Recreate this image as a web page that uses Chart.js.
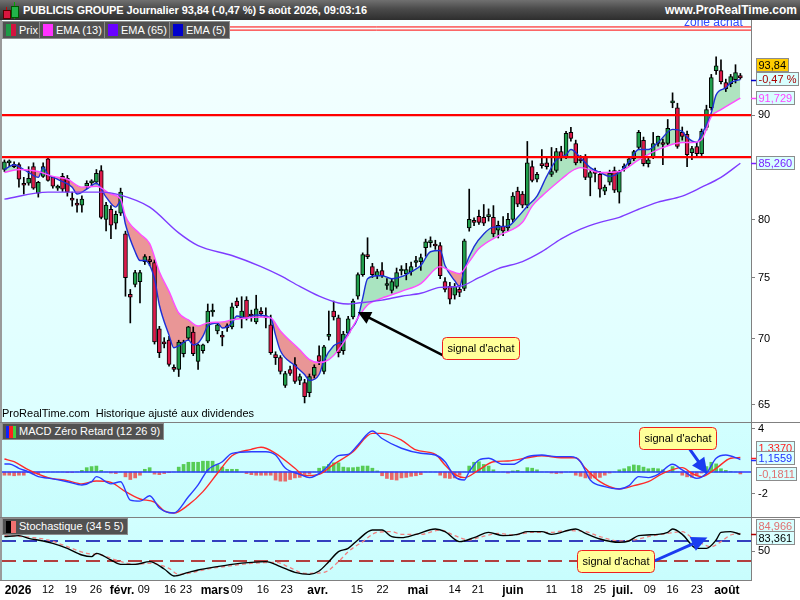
<!DOCTYPE html>
<html lang="fr">
<head>
<meta charset="utf-8">
<title>PUBLICIS GROUPE Journalier</title>
<script src="https://cdn.jsdelivr.net/npm/chart.js@4.4.1/dist/chart.umd.min.js"></script>
<style>
  html,body{margin:0;padding:0;background:#fff;}
  body{width:800px;height:600px;position:relative;overflow:hidden;font-family:"Liberation Sans",Arial,Helvetica,sans-serif;}
  canvas{position:absolute;left:0;}
  #cMain{top:20px;} #cMacd{top:422px;} #cSto{top:517px;}
  #title{position:absolute;left:0;top:0;width:800px;height:20px;background:linear-gradient(#707070,#4a4a4a 45%,#2e2e2e);z-index:6;}
  #title .t{position:absolute;left:23px;top:0;line-height:20px;font-size:11px;font-weight:bold;color:#fff;white-space:nowrap;letter-spacing:-0.1px;}
  #title .w{position:absolute;right:3px;top:0;line-height:20px;font-size:12px;font-weight:bold;color:#fff;white-space:nowrap;}
  .ic{position:absolute;}
  .leg{position:absolute;height:16px;background:#515151;border:1px solid #8c8c8c;color:#fff;font-size:11px;line-height:16px;white-space:nowrap;z-index:5;padding:0 3px 0 16px;}
  .leg i{position:absolute;top:2px;height:12px;}
  .hl{position:absolute;height:1px;background:#808080;z-index:4;}
  #lb{position:absolute;left:0;top:20px;width:2px;height:560px;background:#9a9a9a;z-index:4;}
  #zone{position:absolute;left:684px;top:15px;font-size:12px;line-height:14px;color:#2f4bff;z-index:3;white-space:nowrap;}
  #note{position:absolute;left:2px;top:407px;font-size:11px;line-height:13px;color:#000;z-index:3;white-space:nowrap;}
</style>
</head>
<body>
<div id="title">
  <div class="ic" style="left:6px;top:7px;width:1px;height:12px;background:#c00;"></div>
  <div class="ic" style="left:3px;top:10px;width:6px;height:7px;background:#d8163f;border:0.5px solid #500;"></div>
  <div class="ic" style="left:14px;top:2px;width:1px;height:17px;background:#0a0;"></div>
  <div class="ic" style="left:11px;top:6px;width:6px;height:10px;background:#22b34a;border:0.5px solid #050;"></div>
  <span class="t">PUBLICIS GROUPE Journalier 93,84 (-0,47 %) 5 août 2026, 09:03:16</span>
  <span class="w">www.ProRealTime.com</span>
</div>
<div id="zone">zone achat</div>
<canvas id="cMain" width="800" height="402"></canvas>
<canvas id="cMacd" width="800" height="95"></canvas>
<canvas id="cSto" width="800" height="83"></canvas>

<div class="leg" style="left:2px;top:21px;"><i style="left:3px;width:5px;background:#1e9a45;"></i><i style="left:8px;width:5px;background:#d3123f;"></i>Prix</div>
<div class="leg" style="left:39px;top:21px;"><i style="left:3px;width:10px;background:#ff33ff;"></i>EMA (13)</div>
<div class="leg" style="left:104px;top:21px;"><i style="left:3px;width:10px;background:#6a00ff;"></i>EMA (65)</div>
<div class="leg" style="left:169px;top:21px;"><i style="left:3px;width:10px;background:#0000cc;"></i>EMA (5)</div>
<div id="note">ProRealTime.com&nbsp; Historique ajusté aux dividendes</div>
<div class="leg" style="left:2px;top:423px;height:15px;line-height:15px;"><i style="left:3px;width:3px;background:#1020ff;"></i><i style="left:6px;width:4px;background:#ff2020;"></i><i style="left:10px;width:3px;background:#40d040;"></i>MACD Zéro Retard (12 26 9)</div>
<div class="leg" style="left:2px;top:518px;height:15px;line-height:15px;"><i style="left:3px;width:5px;background:#000;"></i><i style="left:8px;width:5px;background:#f07070;"></i>Stochastique (34 5 5)</div>
<div id="lb"></div>
<div class="hl" style="left:0;top:422px;width:800px;"></div>
<div class="hl" style="left:0;top:517px;width:800px;"></div>
<div class="hl" style="left:0;top:580px;width:752px;"></div>

<script>
const FONT = '"Liberation Sans", Arial, Helvetica, sans-serif';
Chart.defaults.font.family = FONT;

// ---------------- DATA (daily candles, index 0 = 2 janv. 2026) ----------------
const opens = [
84.66,85.30,85.15,85.12,83.20,83.37,84.93,82.45,84.01,85.69,
83.92,82.91,84.01,83.83,81.85,81.38,81.34,83.09,83.40,83.46,
84.57,80.05,80.97,79.71,80.61,78.76,73.60,74.41,74.65,76.35,
76.40,76.27,70.79,69.76,69.91,67.80,67.64,68.85,70.06,70.54,
68.25,69.08,69.83,72.15,70.63,70.30,70.90,70.95,73.04,71.67,
73.12,71.85,71.35,72.23,71.70,71.11,68.78,68.55,66.44,67.64,
68.02,66.81,66.66,65.91,67.19,68.70,67.49,70.20,72.23,71.67,
69.08,70.46,71.75,73.44,75.24,76.95,75.92,75.15,75.58,74.33,
73.92,74.25,75.55,75.32,75.49,76.27,76.35,77.56,77.99,77.78,
77.73,74.65,74.25,73.52,74.00,74.09,79.28,79.85,80.33,80.24,
80.30,80.24,79.10,79.45,79.28,80.05,82.63,82.36,81.34,84.93,
83.74,85.21,85.30,84.20,84.57,86.38,85.89,88.26,87.17,85.69,
85.89,83.92,84.47,84.20,82.63,83.46,84.57,82.54,84.80,85.21,
85.69,86.78,87.47,85.21,85.89,87.17,87.27,87.17,91.23,90.74,
88.26,88.07,86.28,86.88,86.18,88.76,90.74,94.60,94.60,93.34,
93.23,93.65,94.07];
const highs = [
85.58,85.58,85.40,85.30,83.92,84.93,85.30,83.55,85.30,85.89,
84.00,83.20,84.30,84.10,82.54,81.90,82.20,83.60,83.70,84.66,
85.03,81.60,81.30,80.80,82.91,79.00,74.00,75.60,75.60,76.95,
76.80,76.50,71.00,70.10,70.20,68.00,69.90,69.90,71.00,70.95,
69.60,69.60,72.80,72.80,71.20,70.60,71.20,72.88,73.30,73.40,
73.40,72.30,73.52,72.50,72.48,71.90,69.00,68.70,67.50,67.90,
68.55,67.30,66.90,67.30,68.00,69.46,69.50,72.23,73.04,71.90,
70.60,71.80,73.20,75.40,77.10,78.42,76.20,75.70,76.27,74.90,
74.90,75.80,76.00,76.20,76.30,76.80,77.00,78.30,78.50,78.20,
78.00,75.00,74.60,74.50,74.30,78.30,82.82,80.20,80.90,81.40,
81.00,81.30,79.90,80.30,80.60,82.50,83.00,82.60,87.37,85.50,
84.40,86.58,85.90,86.78,86.70,86.90,88.36,88.76,87.50,86.00,
86.10,84.60,84.80,84.50,83.20,84.60,84.90,84.60,85.20,85.90,
86.50,88.46,87.80,85.80,88.26,87.90,87.60,89.55,92.27,91.20,
88.80,88.40,86.90,87.20,88.60,91.00,94.20,96.07,95.75,93.70,
94.20,95.23,94.30];
const lows = [
84.47,84.93,84.84,83.00,82.36,83.18,82.80,82.08,83.92,83.55,
82.91,82.70,82.60,82.17,81.25,80.70,80.70,82.90,83.10,83.30,
80.10,79.02,78.33,79.19,80.40,73.44,71.27,74.20,72.88,76.10,
76.00,69.60,68.55,69.30,67.90,67.50,67.11,68.60,69.90,68.70,
67.64,68.90,69.70,71.80,70.40,69.46,70.60,70.80,72.50,70.87,
71.50,71.40,71.20,71.80,70.87,68.80,68.02,67.30,66.29,67.20,
66.60,66.50,65.15,65.60,67.00,68.00,67.30,69.91,71.50,68.60,
68.80,70.30,71.60,73.20,75.10,76.60,75.00,74.90,75.00,74.00,
73.70,74.10,75.20,74.80,75.20,75.90,75.60,76.80,77.60,77.40,
74.90,73.80,72.80,73.20,73.40,73.90,79.00,79.50,79.60,79.50,
79.90,78.50,78.40,78.60,79.00,79.80,81.20,81.10,81.10,83.50,
83.50,84.80,84.70,84.00,84.40,85.50,85.70,87.40,85.10,85.30,
83.70,82.20,83.50,82.08,82.30,83.20,82.50,81.53,84.50,85.00,
85.50,86.60,85.00,84.90,85.70,86.90,85.12,87.00,90.74,86.70,
87.50,84.93,85.60,85.90,86.00,88.50,90.50,94.20,93.20,92.40,
92.90,93.30,93.70];
const closes = [
85.40,85.35,84.93,83.74,83.18,83.83,82.91,83.46,84.93,83.64,
83.09,83.09,82.82,82.54,81.80,81.34,81.89,83.37,83.46,84.29,
80.24,81.34,79.53,80.51,82.54,74.98,73.36,75.41,75.41,76.78,
76.35,69.76,68.93,69.61,68.02,67.64,69.76,69.76,70.95,68.85,
69.53,69.53,72.23,72.20,71.11,70.14,70.87,72.56,72.64,72.23,
71.67,71.83,72.40,71.99,71.67,68.93,68.55,67.49,67.34,67.34,
66.74,67.11,65.60,67.11,67.80,68.25,69.38,70.22,71.75,68.93,
70.38,71.59,73.04,75.24,76.95,76.78,75.24,75.49,75.15,74.49,
74.65,75.41,75.58,75.66,75.92,76.44,76.70,78.07,78.16,77.70,
75.15,74.00,73.20,74.25,73.76,78.16,80.05,79.79,79.79,79.71,
80.33,78.76,79.53,79.02,80.05,82.17,81.43,81.34,85.30,83.64,
84.20,85.03,84.93,84.47,86.38,85.89,88.17,87.67,85.30,85.49,
83.92,84.38,84.29,82.82,83.00,84.29,82.72,84.47,84.84,85.69,
86.38,88.26,85.21,85.58,87.17,87.87,87.07,88.66,91.43,86.88,
87.87,86.08,86.68,86.18,88.36,90.54,93.86,95.12,93.44,92.71,
93.97,94.39,93.84];

// EMA lines (candle index, value)
const ema5Idx = [0,2,4,5,7,8,9,11,14,15,17,19,21,23,24,25,27,28,29,31,32,34,35,36,38,39,40,41,42,44,45,47,48,50,52,55,56,57,60,62,63,65,66,68,69,70,71,73,74,75,77,78,80,82,84,86,88,90,91,93,94,95,97,99,101,104,106,108,110,112,114,116,117,119,121,123,125,127,129,131,133,135,138,140,141,143,144,146,147,149,150,152];
const ema5Val = [84.66,85.12,84.66,84.38,83.92,84.84,84.20,83.74,83.00,82.36,82.82,83.37,82.08,81.16,81.71,79.62,77.2,76.44,76.44,74.89,72.72,70.30,69.31,69.46,69.91,69.53,69.68,70.22,71.03,71.27,70.87,71.27,71.83,71.67,71.91,71.67,70.30,69.08,67.94,67.26,66.81,67.26,68.32,69.46,69.68,69.83,70.46,71.67,73.28,74.89,75.15,75.15,74.89,75.07,75.49,76.01,77.2,77.3,76.01,74.73,74.25,75.73,77.64,78.76,79.36,79.45,80.24,81.25,82.17,84.01,85.58,86.08,86.58,85.79,84.84,84.38,84.01,84.38,85.40,86.58,86.58,87.27,88.56,88.36,87.77,87.27,88.07,90.24,92.06,92.8,93.34,93.65];
const ema13Idx = [0,3,7,10,13,16,19,22,24,25,28,30,32,34,36,38,40,42,45,47,50,53,55,57,61,63,65,67,69,71,73,75,78,82,86,90,92,94,96,98,102,107,109,111,115,117,119,123,127,131,135,140,142,144,146,148,152];
const ema13Val = [84.38,84.66,84.47,84.01,83.74,83.00,83.09,82.36,81.89,80.33,78.76,77.90,75.49,73.84,72.07,71.51,71.03,71.27,71.35,71.51,71.67,71.75,71.67,70.63,69.15,68.40,68.17,68.40,69.15,70.30,71.67,72.72,73.28,73.84,74.49,75.92,75.58,75.32,76.35,77.47,78.59,79.79,81.25,82.17,83.74,84.47,84.84,84.38,84.47,85.58,86.58,87.27,87.27,87.57,89.84,90.54,91.73];
const ema65Idx = [0,9,20,24,30,36,40,47,53,57,61,65,69,71,73,78,82,86,90,94,98,102,107,111,115,119,123,127,131,135,140,144,148,152];
const ema65Val = [81.89,82.54,82.54,82.26,81.16,78.85,77.73,76.87,75.92,75.15,74.25,73.44,72.88,72.80,72.88,73.12,73.44,73.68,74.17,74.25,74.98,75.75,76.35,77.2,78.33,79.19,79.79,80.24,80.97,81.62,82.17,83.0,83.92,85.26];

// horizontal levels drawn on the price panel
const levelsThick = [90.0, 85.85];
const levelsThin = [99.35, 99.0];

// MACD zero-lag (12 26 9)
const macdIdx = [0,1,3,5,7,9,13,16,18,19,22,24,26,28,30,32,35,38,40,42,45,47,51,54,56,58,61,63,66,69,71,73,76,78,82,86,89,91,93,95,96,98,100,103,105,108,111,114,117,119,121,124,127,129,131,133,135,138,140,143,145,147,149,152];
const macdVal = [0.74,0.74,0.34,0.0,-0.43,-0.57,-0.9,-1.2,-0.9,-0.43,-1.1,-0.9,-2.6,-2.7,-2.2,-3.33,-3.8,-2.3,-1.2,0.19,0.95,1.73,1.88,1.88,1.57,0.37,-0.22,-0.52,0.19,1.51,1.63,2.5,3.8,3.1,2.2,1.73,1.57,0.95,-0.43,-0.74,0.03,1.11,1.27,0.71,0.71,1.42,1.57,1.42,1.42,0.95,-0.74,-1.36,-1.57,-1.27,-0.43,-0.52,-0.22,0.71,0.19,-0.59,-0.12,1.27,1.57,1.16];
const signalIdx = [0,2,5,9,13,16,19,22,25,28,31,33,35,38,41,44,47,51,53,56,60,62,65,68,72,76,78,82,85,89,91,93,95,98,101,104,108,111,115,118,120,123,127,130,133,136,140,142,144,147,150,152];
const signalVal = [1.2,0.95,0.19,-0.52,-0.8,-1.1,-0.83,-0.96,-1.82,-2.5,-2.8,-3.6,-3.8,-3.05,-1.82,-0.12,1.51,2.1,2.29,1.73,0.34,-0.34,-0.22,0.71,1.88,3.58,3.58,2.96,2.04,1.63,0.65,-0.22,-0.52,0.19,0.95,1.02,1.32,1.51,1.32,1.32,0.34,-0.9,-1.57,-1.27,-0.9,-0.12,0.4,-0.12,-0.43,0.34,1.27,1.34];
const histVal = [
-0.3,-0.3,-0.35,-0.3,-0.3,-0.05,-0.2,-0.2,0,0,
0,0,0,-0.05,-0.05,0,0.15,0.4,0.5,0.55,
0.15,0,-0.1,-0.15,0,-0.45,-0.7,-0.55,-0.3,0.25,
0.4,-0.2,-0.25,-0.15,-0.05,0,0.45,0.7,0.9,0.9,
0.9,1.0,1.0,1.0,0.7,0.45,0.25,0.25,0.25,0,
-0.15,-0.25,-0.3,-0.3,-0.3,-0.3,-0.75,-0.85,-0.85,-0.7,
-0.55,-0.5,-0.35,-0.2,0,0.35,0.5,0.7,0.85,0.85,
0.45,0.4,0.4,0.45,0.55,0.55,0.35,0.1,-0.35,-0.6,
-0.7,-0.75,-0.55,-0.5,-0.4,-0.35,-0.25,0,0,0,
-0.3,-0.55,-0.6,-0.55,-0.3,0,0.55,0.9,0.95,0.7,
0.55,0.2,0,0,-0.1,0.1,0.15,0,0.4,0.35,
0.2,0,0,-0.1,-0.15,-0.1,0,0,-0.3,-0.4,
-0.55,-0.6,-0.55,-0.5,-0.3,-0.1,0,0.2,0.3,0.5,
0.65,0.6,0.45,0.3,0.35,0.3,0.2,0,0.5,0,
-0.3,-0.45,-0.5,-0.35,-0.1,0.5,0.9,0.75,0.3,0.15,
0.05,0,-0.18];

// Stochastique (34 5 5)
const stoKIdx = [0,3,5,8,10,13,16,18,19,22,24,27,30,33,35,38,40,44,47,51,54,57,60,63,65,67,69,71,73,76,78,80,82,85,89,91,94,97,100,103,106,108,111,113,118,120,123,127,129,131,135,137,138,140,143,145,147,148,150,152];
const stoKVal = [78.7,80.7,75.3,70,65.3,55.3,42,38.7,45.3,32,23.3,23.3,28.7,14,0,7.3,12,18.7,23.3,27.3,28.7,18.7,7.3,3.3,10,28.7,48.7,55.3,72,92,92,78.7,76.7,83.3,94,88.7,68.7,76.7,87.3,80.7,83.3,88.7,88.7,83.3,94,85.3,74,67.3,70,80.7,83.3,87.3,94,83.3,55.3,55.3,72,87.3,88.7,83.4];
const stoDIdx = [0,6,9,13,17,20,23,27,30,34,36,39,42,47,51,56,59,62,66,69,71,74,77,80,82,86,90,93,96,98,102,105,109,113,116,120,123,127,130,133,137,140,142,146,148,150,152];
const stoDVal = [80.7,76.7,72,58.7,45.3,42,32,23.3,25.3,15.3,3.3,7.3,14,20.7,25.3,27.3,16.7,5.3,7.3,28.7,48.7,68.7,87.3,88.7,83.3,83.3,92,80.7,72,76.7,85.3,82,87.3,87.3,90.7,88.7,78.7,70,72,78.7,85.3,88.7,76.7,58.7,68.7,82,85];
const stoLevels = [70, 30];

// tick labels
const priceTicks = [65, 70, 75, 80, 90];
const macdTicks = [4, -2];
const stoTicks = [50];
const dateTickPos = [2.8,9.0,13.7,18.9,24.3,28.8,34.2,37.5,43.5,48.0,53.4,58.3,64.7,72.8,78.1,85.4,93.0,97.8,105.0,113.0,118.2,123.0,127.7,133.3,138.0,143.0,149.2];
const dateTickText = ['2026','12','19','26','févr.','09','16','23','mars','09','16','23','avr.','15','22','mai','14','21','juin','11','18','25','juil.','09','16','23','août'];
const dateTickMajor = [1,0,0,0,1,0,0,0,1,0,0,0,1,0,0,1,0,0,1,0,0,0,1,0,0,0,1];

// last values shown on the right axis
const lastPrice = 93.84, lastChange = '-0,47 %';
const lastEma13 = 91.729, lastEma65 = 85.260, lastEma5 = 93.65;
const lastSignal = 1.3370, lastMacd = 1.1559, lastHist = -0.1811;
const lastStoD = 84.966, lastStoK = 83.361;

// ---------------- helpers ----------------
const XMIN = -0.5, XMAX = 154.2;
const AXW = 49;
const pts = (ix, vals) => ix.map((x, k) => ({x, y: vals[k]}));
const hline = v => [{x: XMIN, y: v}, {x: XMAX, y: v}];
const fr = (v, d) => v.toFixed(d).replace('.', ',');

const bgPlugin = {
  id: 'bg',
  beforeDraw(chart, args, o) {
    const {ctx, chartArea: a} = chart;
    ctx.save();
    const g = ctx.createLinearGradient(0, a.top, 0, a.bottom);
    g.addColorStop(0, o.c1); g.addColorStop(1, o.c2);
    ctx.fillStyle = g;
    ctx.fillRect(a.left, a.top, a.right - a.left, a.bottom - a.top);
    ctx.restore();
  }
};

function roundRect(ctx, x, y, w, h, r) {
  ctx.beginPath();
  ctx.moveTo(x + r, y); ctx.lineTo(x + w - r, y); ctx.quadraticCurveTo(x + w, y, x + w, y + r);
  ctx.lineTo(x + w, y + h - r); ctx.quadraticCurveTo(x + w, y + h, x + w - r, y + h);
  ctx.lineTo(x + r, y + h); ctx.quadraticCurveTo(x, y + h, x, y + h - r);
  ctx.lineTo(x, y + r); ctx.quadraticCurveTo(x, y, x + r, y); ctx.closePath();
}
function callout(ctx, left, cy, text) {
  ctx.save();
  ctx.font = '11px ' + FONT;
  const w = Math.round(ctx.measureText(text).width) + 10, h = 22;
  const x = Math.round(left) + 0.5, y = Math.round(cy - h / 2) + 0.5;
  roundRect(ctx, x, y, w, h, 4);
  ctx.fillStyle = '#ffff99'; ctx.fill();
  ctx.strokeStyle = '#ee2020'; ctx.lineWidth = 1; ctx.stroke();
  ctx.fillStyle = '#000'; ctx.textAlign = 'center'; ctx.textBaseline = 'middle';
  ctx.fillText(text, x + w / 2, y + h / 2 + 0.5);
  ctx.restore();
}
function arrow(ctx, x1, y1, x2, y2, color, lw, hl, hw) {
  const a = Math.atan2(y2 - y1, x2 - x1);
  const bx = x2 - hl * Math.cos(a), by = y2 - hl * Math.sin(a);
  ctx.save();
  ctx.strokeStyle = color; ctx.lineWidth = lw; ctx.lineCap = 'round';
  ctx.beginPath(); ctx.moveTo(x1, y1); ctx.lineTo(bx, by); ctx.stroke();
  ctx.fillStyle = color; ctx.beginPath();
  ctx.moveTo(x2, y2);
  ctx.lineTo(bx + hw / 2 * Math.sin(a), by - hw / 2 * Math.cos(a));
  ctx.lineTo(bx - hw / 2 * Math.sin(a), by + hw / 2 * Math.cos(a));
  ctx.closePath(); ctx.fill();
  ctx.restore();
}
function valBox(ctx, x, cy, text, bg, fg) {
  ctx.save();
  ctx.font = '11px ' + FONT;
  const w = Math.round(ctx.measureText(text).width) + 5, h = 14;
  const y = Math.round(cy - h / 2);
  ctx.fillStyle = bg; ctx.fillRect(x, y, w, h);
  ctx.strokeStyle = '#8c8c8c'; ctx.lineWidth = 1; ctx.strokeRect(x + 0.5, y + 0.5, w - 1, h - 1);
  ctx.fillStyle = fg; ctx.textBaseline = 'middle'; ctx.textAlign = 'left';
  ctx.fillText(text, x + 2.5, y + h / 2 + 0.5);
  ctx.restore();
}
function mark(ctx, x, y, color) {
  ctx.save(); ctx.strokeStyle = color; ctx.lineWidth = 1.5;
  ctx.beginPath(); ctx.moveTo(x, Math.round(y) + 0.5); ctx.lineTo(x + 5, Math.round(y) + 0.5); ctx.stroke();
  ctx.restore();
}
function yAxis(extra) {
  return Object.assign({
    position: 'right',
    afterFit(s) { s.width = AXW; s.paddingTop = 0; s.paddingBottom = 0; },
    ticks: {callback: v => String(v).replace('.', ','), font: {size: 11, family: FONT}, color: '#000', padding: 3, autoSkip: false},
    grid: {drawOnChartArea: false, drawTicks: true, tickLength: 4, color: '#808080'},
    border: {display: true, color: '#808080'}
  }, extra);
}
const xHidden = {type: 'linear', min: XMIN, max: XMAX, display: false, offset: false,
  afterFit(s) { s.paddingLeft = 0; s.paddingRight = 0; }};
const baseOpts = {
  responsive: false, animation: false, events: [],
  layout: {padding: {left: 2, right: 0, top: 0, bottom: 0}, autoPadding: false},
};
const lineDs = (data, color, width, extra) => Object.assign({
  type: 'line', data, borderColor: color, borderWidth: width, pointRadius: 0,
  cubicInterpolationMode: 'monotone', fill: false
}, extra);

// ---------------- price panel ----------------
const idx = opens.map((_, i) => i);
const up = i => closes[i] >= opens[i];
const mainDecor = {
  id: 'mainDecor',
  afterDraw(chart) {
    const {ctx, scales: {x, y}, chartArea: a} = chart;
    arrow(ctx, x.getPixelForValue(91.2), y.getPixelForValue(68.6), x.getPixelForValue(73.0), y.getPixelForValue(72.15), '#000', 2.5, 13, 13);
    callout(ctx, x.getPixelForValue(90.3), y.getPixelForValue(69.31), "signal d'achat");
    const bx = a.right + 5;
    mark(ctx, a.right, y.getPixelForValue(lastEma5), '#0000cc');
    mark(ctx, a.right, y.getPixelForValue(lastEma13), '#ff44ff');
    mark(ctx, a.right, y.getPixelForValue(lastEma65), '#7a22ff');
    valBox(ctx, bx, y.getPixelForValue(lastPrice) - 13, fr(lastPrice, 2), '#ffcc00', '#000');
    valBox(ctx, bx, y.getPixelForValue(lastPrice) + 1.5, lastChange, '#d8ffff', '#aa0000');
    valBox(ctx, bx, y.getPixelForValue(lastEma13), fr(lastEma13, 3), '#d8ffff', '#ff44ff');
    valBox(ctx, bx, y.getPixelForValue(lastEma65), fr(lastEma65, 3), '#d8ffff', '#7a22ff');
  }
};
new Chart(document.getElementById('cMain'), {
  type: 'bar',
  data: {datasets: [
    lineDs(hline(levelsThick[0]), '#ff0000', 2.2, {order: 1, cubicInterpolationMode: 'default'}),
    lineDs(hline(levelsThick[1]), '#ff0000', 2.2, {order: 1, cubicInterpolationMode: 'default'}),
    lineDs(hline(levelsThin[0]), '#ff0000', 1, {order: 1, cubicInterpolationMode: 'default'}),
    lineDs(hline(levelsThin[1]), '#ff0000', 1, {order: 1, cubicInterpolationMode: 'default'}),
    lineDs(pts(ema65Idx, ema65Val), '#7f3cff', 1.4, {order: 2}),
    lineDs(pts(ema13Idx, ema13Val), '#ff4dff', 1.4, {order: 2}),
    lineDs(pts(ema5Idx, ema5Val), '#1d2fd6', 1.4, {order: 2,
      fill: {target: 5, above: 'rgba(120,205,140,0.55)', below: 'rgba(236,110,110,0.72)'}}),
    {type: 'bar', order: 4, grouped: false, barThickness: 4, minBarLength: 2,
      data: idx.map(i => ({x: i, y: [opens[i], closes[i]]})),
      backgroundColor: idx.map(i => up(i) ? '#1f9e4b' : '#dc1a4a'),
      borderColor: '#000', borderWidth: 1, borderSkipped: false},
    {type: 'bar', order: 5, grouped: false, barThickness: 1,
      data: idx.map(i => ({x: i, y: [lows[i], highs[i]]})),
      backgroundColor: '#000', borderWidth: 0}
  ]},
  options: Object.assign({}, baseOpts, {
    plugins: {legend: {display: false}, tooltip: {enabled: false},
      filler: {drawTime: 'beforeDatasetsDraw', propagate: false},
      bg: {c1: '#f6ffff', c2: '#dcffff'}},
    scales: {
      x: xHidden,
      y: yAxis({type: 'logarithmic', min: 63.77, max: 100.13, bounds: 'data',
        afterBuildTicks(s) { s.ticks = priceTicks.map(v => ({value: v})); }})
    }
  }),
  plugins: [bgPlugin, mainDecor]
});

// ---------------- MACD panel ----------------
const macdDecor = {
  id: 'macdDecor',
  afterDraw(chart) {
    const {ctx, scales: {x, y}, chartArea: a} = chart;
    arrow(ctx, x.getPixelForValue(141.1), y.getPixelForValue(2.4), x.getPixelForValue(145.2), y.getPixelForValue(-0.2), '#1a3cf0', 3, 16, 15);
    callout(ctx, x.getPixelForValue(131.0), y.getPixelForValue(3.19), "signal d'achat");
    const bx = a.right + 5;
    mark(ctx, a.right, y.getPixelForValue(lastSignal), '#ff2020');
    mark(ctx, a.right, y.getPixelForValue(lastMacd), '#2030ff');
    valBox(ctx, bx, y.getPixelForValue(lastSignal) - 9.5, fr(lastSignal, 4), '#d8ffff', '#ff2020');
    valBox(ctx, bx, y.getPixelForValue(lastMacd) - 2, fr(lastMacd, 4), '#d8ffff', '#2030ff');
    valBox(ctx, bx, y.getPixelForValue(lastHist), fr(lastHist, 4), '#d8ffff', '#e07070');
  }
};
new Chart(document.getElementById('cMacd'), {
  type: 'bar',
  data: {datasets: [
    lineDs(pts(macdIdx, macdVal), '#2a3cff', 1.4, {order: 0}),
    lineDs(pts(signalIdx, signalVal), '#ff2a2a', 1.4, {order: 1}),
    lineDs(hline(0), '#2b3cff', 1.4, {order: 2, cubicInterpolationMode: 'default'}),
    {type: 'bar', order: 3, grouped: false, barThickness: 3,
      data: idx.map(i => ({x: i, y: histVal[i]})),
      backgroundColor: idx.map(i => histVal[i] >= 0 ? '#56cc56' : '#e86868'), borderWidth: 0}
  ]},
  options: Object.assign({}, baseOpts, {
    plugins: {legend: {display: false}, tooltip: {enabled: false}, bg: {c1: '#d2ffff', c2: '#c8fdfd'}},
    scales: {
      x: xHidden,
      y: yAxis({type: 'linear', min: -4.17, max: 4.63, bounds: 'data',
        afterBuildTicks(s) { s.ticks = macdTicks.map(v => ({value: v})); }})
    }
  }),
  plugins: [bgPlugin, macdDecor]
});

// ---------------- Stochastic panel ----------------
const stoDecor = {
  id: 'stoDecor',
  afterDraw(chart) {
    const {ctx, scales: {x, y}, chartArea: a} = chart;
    arrow(ctx, x.getPixelForValue(134.2), y.getPixelForValue(30), x.getPixelForValue(145.2), y.getPixelForValue(77), '#1a3cf0', 3, 16, 15);
    callout(ctx, x.getPixelForValue(118.2), y.getPixelForValue(29), "signal d'achat");
    const bx = a.right + 5;
    mark(ctx, a.right, y.getPixelForValue(lastStoD), '#aa0000');
    valBox(ctx, bx, y.getPixelForValue(lastStoD) - 8, fr(lastStoD, 3), '#d8ffff', '#e07070');
    valBox(ctx, bx, y.getPixelForValue(lastStoK) + 4, fr(lastStoK, 3), '#d8ffff', '#000');
  }
};
new Chart(document.getElementById('cSto'), {
  type: 'line',
  data: {datasets: [
    lineDs(pts(stoKIdx, stoKVal), '#000000', 1.4, {order: 0}),
    lineDs(pts(stoDIdx, stoDVal), '#f08080', 1.3, {order: 1, borderDash: [4, 3]}),
    lineDs(hline(stoLevels[0]), '#0000aa', 1.3, {order: 2, borderDash: [14, 7], cubicInterpolationMode: 'default'}),
    lineDs(hline(stoLevels[1]), '#aa0000', 1.3, {order: 2, borderDash: [14, 7], cubicInterpolationMode: 'default'})
  ]},
  options: Object.assign({}, baseOpts, {
    plugins: {legend: {display: false}, tooltip: {enabled: false}, bg: {c1: '#d2ffff', c2: '#c8fdfd'}},
    scales: {
      x: {type: 'linear', min: XMIN, max: XMAX, offset: false,
        afterBuildTicks(s) { s.ticks = dateTickPos.map(v => ({value: v})); },
        afterFit(s) { s.height = 20; s.paddingLeft = 0; s.paddingRight = 0; },
        grid: {display: false, drawTicks: false, tickLength: 0}, border: {display: false},
        ticks: {autoSkip: false, maxRotation: 0, padding: 3, color: '#000',
          callback: (v, i) => dateTickText[i],
          font: c => ({family: FONT, size: dateTickMajor[c.index] ? 12 : 11, weight: dateTickMajor[c.index] ? 'bold' : 'normal'})}},
      y: yAxis({type: 'linear', min: -8, max: 118, bounds: 'data',
        afterBuildTicks(s) { s.ticks = stoTicks.map(v => ({value: v})); }})
    }
  }),
  plugins: [bgPlugin, stoDecor]
});
</script>
</body>
</html>
